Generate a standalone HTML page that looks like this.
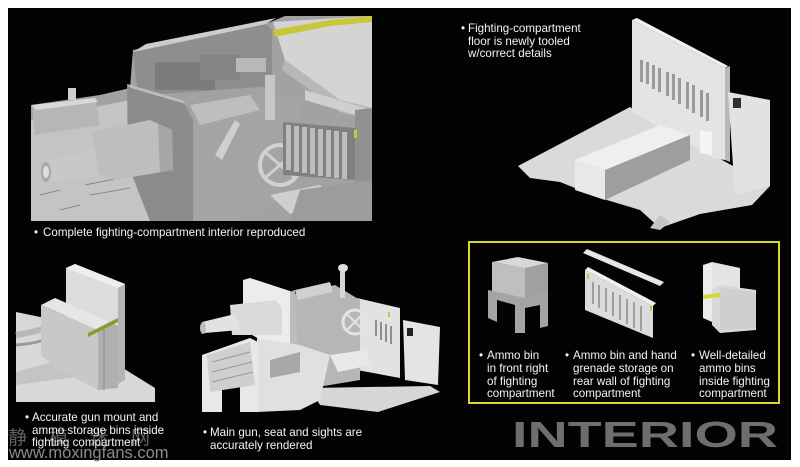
<!DOCTYPE html>
<html><head><meta charset="utf-8">
<style>
html,body{margin:0;padding:0;background:#fff;}
svg{display:block;}
text{font-family:"Liberation Sans","Noto Sans CJK SC",sans-serif;}
.c{fill:#f4f4f4;font-size:11.6px;}
</style></head>
<body>
<svg width="800" height="467" viewBox="0 0 800 467" xmlns="http://www.w3.org/2000/svg">
<rect x="0" y="0" width="800" height="467" fill="#fff"/>
<rect x="8" y="8" width="783" height="452" fill="#030303"/>

<!-- ===== Panel 1: top-left render ===== -->
<g>
<polygon points="31,105 100,95 130,88 133,50 268,23 285,16 372,16 372,221 31,221" fill="#a2a2a2"/>
<polygon points="31,120 130,100 190,200 190,221 31,221" fill="#c4c4c4"/>
<polygon points="32,105 95,98 100,125 35,135" fill="#b6b6b6"/>
<polygon points="32,105 95,98 98,102 36,110" fill="#d8d8d8"/>
<rect x="68" y="88" width="8" height="12" fill="#cfcfcf"/>
<g stroke="#8a8a8a" stroke-width="1">
<line x1="40" y1="195" x2="60" y2="190"/><line x1="60" y1="210" x2="80" y2="205"/>
<line x1="85" y1="185" x2="120" y2="178"/><line x1="90" y1="195" x2="130" y2="188"/>
</g>
<polygon points="133,52 266,24 272,30 272,86 138,96" fill="#8e8e8e"/>
<polygon points="133,52 266,24 276,18 146,44" fill="#cccccc"/>
<rect x="155" y="62" width="60" height="28" fill="#7c7c7c"/>
<rect x="200" y="55" width="40" height="25" fill="#848484"/>
<rect x="236" y="58" width="30" height="14" fill="#b8b8b8"/>
<polygon points="273,22 372,16 372,108 340,100 285,60" fill="#d4d4d4"/>
<polygon points="273,30 330,20 372,16 372,22 330,26 275,37" fill="#c8c63a"/>
<polygon points="285,60 340,100 372,108 372,120 340,112 282,70" fill="#b8b8b8"/>
<polygon points="127,84 182,100 193,120 193,221 150,221 128,165" fill="#8c8c8c"/>
<polygon points="127,84 182,100 186,104 131,88" fill="#bdbdbd"/>
<polygon points="93,132 150,120 172,130 173,170 115,180 93,172" fill="#bebebe"/>
<polygon points="150,120 172,130 173,170 160,172 158,124" fill="#a6a6a6"/>
<polygon points="45,162 95,148 98,176 48,182" fill="#c8c8c8"/>
<ellipse cx="46" cy="172" rx="5" ry="10" fill="#a8a8a8"/>
<ellipse cx="46" cy="172" rx="3" ry="6" fill="#dedede"/>
<polygon points="193,110 270,90 300,100 300,190 240,221 193,221" fill="#a4a4a4"/>
<polygon points="190,105 250,95 260,110 200,125" fill="#bebebe"/>
<rect x="265" y="75" width="10" height="45" fill="#c6c6c6"/>
<circle cx="280" cy="165" r="20" fill="none" stroke="#d2d2d2" stroke-width="4"/>
<line x1="265" y1="152" x2="295" y2="178" stroke="#d0d0d0" stroke-width="3"/>
<line x1="295" y1="152" x2="265" y2="178" stroke="#d0d0d0" stroke-width="3"/>
<polygon points="270,195 320,185 335,200 290,214" fill="#cfcfcf"/>
<polygon points="215,155 235,120 240,124 222,160" fill="#cfcfcf"/>
<polygon points="283,122 355,128 355,180 283,175" fill="#808080"/>
<g fill="#bdbdbd">
<rect x="286" y="125" width="5" height="45"/><rect x="294" y="126" width="5" height="46"/>
<rect x="302" y="127" width="5" height="46"/><rect x="310" y="128" width="5" height="46"/>
<rect x="318" y="129" width="5" height="47"/><rect x="326" y="130" width="5" height="47"/>
<rect x="334" y="131" width="5" height="47"/><rect x="342" y="132" width="5" height="47"/>
</g>
<polygon points="305,90 365,108 365,118 305,100" fill="#cfcfcf"/>
<polygon points="355,110 372,108 372,221 355,221" fill="#919191"/>
<rect x="354" y="130" width="3" height="8" fill="#c8c63a"/>
<polygon points="300,190 372,180 372,221 290,221" fill="#9c9c9c"/>
</g>
<text class="c" x="34" y="236">•</text>
<text class="c" x="43" y="236">Complete fighting-compartment interior reproduced</text>

<!-- ===== Panel 2: top-right floor ===== -->
<text class="c" x="461" y="32">•</text>
<text class="c" x="468" y="32">Fighting-compartment</text>
<text class="c" x="468" y="45">floor is newly tooled</text>
<text class="c" x="468" y="57">w/correct details</text>
<g>
<polygon points="518,166 630,107 700,148 770,186 752,205 700,214 660,228 640,210 600,198 560,182 530,178" fill="#dadada"/>
<polygon points="632,20 725,68 725,160 713,158 700,150 632,112" fill="#e4e4e4"/>
<polygon points="632,20 637,18 728,66 725,68" fill="#f0f0f0"/>
<polygon points="725,68 730,66 730,162 725,160" fill="#b8b8b8"/>
<g fill="#9a9a9a">
<rect x="640" y="60" width="3" height="22"/><rect x="646" y="62" width="3" height="22"/>
<rect x="652" y="65" width="3" height="24"/><rect x="658" y="68" width="3" height="24"/>
<rect x="666" y="72" width="3" height="24"/><rect x="672" y="74" width="3" height="26"/>
<rect x="678" y="78" width="3" height="26"/><rect x="686" y="82" width="3" height="27"/>
<rect x="692" y="85" width="3" height="28"/><rect x="700" y="90" width="3" height="27"/>
<rect x="706" y="93" width="3" height="28"/>
</g>
<polygon points="728,92 770,100 770,186 735,195" fill="#e2e2e2"/>
<rect x="733" y="98" width="8" height="10" fill="#303030"/>
<polygon points="575,160 660,125 690,135 605,170" fill="#efefef"/>
<polygon points="575,160 605,170 605,200 575,190" fill="#e8e8e8"/>
<polygon points="605,170 690,135 690,160 605,200" fill="#9e9e9e"/>
<polygon points="700,130 712,132 712,155 700,153" fill="#f4f4f4"/>
<polygon points="650,228 660,215 670,222 660,230" fill="#c4c4c4"/>
</g>

<!-- ===== Yellow box ===== -->
<rect x="469" y="242" width="310" height="161" fill="none" stroke="#d8d82a" stroke-width="2"/>
<polygon points="492,268 525,262 548,268 548,300 520,300 492,295" fill="#a8a8a8"/>
<polygon points="492,262 518,257 548,263 525,268" fill="#d8d8d8"/>
<polygon points="492,262 525,268 525,298 492,292" fill="#bfbfbf"/>
<polygon points="525,268 548,263 548,292 525,298" fill="#a0a0a0"/>
<polygon points="488,290 525,298 548,292 548,326 540,328 540,305 525,308 525,333 515,333 515,305 497,300 497,322 488,318" fill="#a4a4a4"/>
<polygon points="583,253 587,249 664,282 660,286" fill="#e6e6e6"/>
<polygon points="585,270 653,306 653,338 585,310" fill="#dcdcdc"/>
<polygon points="585,270 588,267 656,303 653,306" fill="#f0f0f0"/>
<g fill="#9e9e9e">
<rect x="592" y="282" width="2" height="22"/><rect x="598" y="285" width="2" height="23"/>
<rect x="605" y="288" width="2" height="24"/><rect x="612" y="292" width="2" height="24"/>
<rect x="619" y="295" width="2" height="25"/><rect x="626" y="299" width="2" height="25"/>
<rect x="633" y="302" width="2" height="26"/><rect x="640" y="306" width="2" height="25"/>
</g>
<rect x="587" y="274" width="2" height="5" fill="#c8c63a"/>
<rect x="650" y="306" width="2" height="5" fill="#c8c63a"/>
<polygon points="703,265 712,262 712,322 703,318" fill="#ececec"/>
<polygon points="712,262 740,268 740,290 712,290" fill="#e4e4e4"/>
<polygon points="712,290 720,285 756,290 756,330 720,333 712,325" fill="#d8d8d8"/>
<polygon points="720,288 756,292 756,328 720,330" fill="#cfcfcf"/>
<polygon points="703,295 720,293 720,297 703,299" fill="#d6d63a"/>
<text class="c" x="479" y="359">•</text>
<text class="c" x="487" y="359">Ammo bin</text>
<text class="c" x="487" y="372">in front right</text>
<text class="c" x="487" y="385">of fighting</text>
<text class="c" x="487" y="397">compartment</text>
<text class="c" x="565" y="359">•</text>
<text class="c" x="573" y="359">Ammo bin and hand</text>
<text class="c" x="573" y="372">grenade storage on</text>
<text class="c" x="573" y="385">rear wall of fighting</text>
<text class="c" x="573" y="397">compartment</text>
<text class="c" x="691" y="359">•</text>
<text class="c" x="699" y="359">Well-detailed</text>
<text class="c" x="699" y="372">ammo bins</text>
<text class="c" x="699" y="385">inside fighting</text>
<text class="c" x="699" y="397">compartment</text>

<!-- ===== Bottom-left render ===== -->
<g>
<polygon points="16,312 45,318 62,330 85,345 110,360 155,388 155,402 16,402" fill="#d8d8d8"/>
<path d="M16,335 Q50,330 62,318" fill="none" stroke="#b8b8b8" stroke-width="6"/>
<path d="M16,345 Q55,342 68,325" fill="none" stroke="#9a9a9a" stroke-width="3"/>
<polygon points="16,372 60,360 90,375 16,385" fill="#c4c4c4"/>
<polygon points="66,268 75,264 125,284 125,360 66,330" fill="#dcdcdc"/>
<polygon points="66,268 75,264 125,284 118,288" fill="#eeeeee"/>
<polygon points="118,288 125,284 125,380 118,384" fill="#b4b4b4"/>
<polygon points="41,305 55,298 110,322 98,330" fill="#e6e6e6"/>
<polygon points="41,305 98,330 98,390 60,370 41,355" fill="#c8c8c8"/>
<polygon points="98,330 110,322 118,326 118,388 98,390" fill="#b0b0b0"/>
<line x1="104" y1="328" x2="104" y2="390" stroke="#8c8c8c" stroke-width="1"/>
<polygon points="88,333 118,318 118,322 88,337" fill="#8e9a2a"/>
</g>
<text x="8" y="444" font-size="19" fill="#5e5e5e" letter-spacing="22">静模迷网</text>
<text class="c" x="25" y="421">•</text>
<text class="c" x="32" y="421">Accurate gun mount and</text>
<text class="c" x="32" y="434">ammo storage bins inside</text>
<text class="c" x="32" y="446">fighting compartment</text>
<text x="9" y="458" font-size="16.5" fill="#8c8c8c">www.moxingfans.com</text>

<!-- ===== Bottom-middle render ===== -->
<g>
<polygon points="403,320 440,327 438,385 405,380" fill="#e4e4e4"/>
<rect x="407" y="328" width="6" height="8" fill="#222"/>
<polygon points="357,298 400,308 400,378 357,370" fill="#e2e2e2"/>
<g fill="#8e8e8e"><rect x="380" y="322" width="2" height="18"/><rect x="385" y="324" width="2" height="18"/><rect x="390" y="326" width="2" height="18"/><rect x="375" y="320" width="2" height="16"/></g>
<rect x="388" y="312" width="2" height="5" fill="#c8c63a"/>
<polygon points="310,388 430,386 440,392 378,412 320,405" fill="#d6d6d6"/>
<polygon points="290,295 335,285 360,300 360,380 300,390 290,340" fill="#b6b6b6"/>
<polygon points="295,290 330,282 333,292 298,300" fill="#d0d0d0"/>
<circle cx="355" cy="322" r="12" fill="none" stroke="#e4e4e4" stroke-width="3"/>
<line x1="346" y1="313" x2="364" y2="331" stroke="#e4e4e4" stroke-width="2"/>
<line x1="364" y1="313" x2="346" y2="331" stroke="#e4e4e4" stroke-width="2"/>
<rect x="340" y="268" width="5" height="30" fill="#d6d6d6"/>
<ellipse cx="343" cy="268" rx="5" ry="4" fill="#e0e0e0"/>
<polygon points="330,355 365,350 372,365 338,372" fill="#e8e8e8"/>
<polygon points="243,280 250,278 293,292 290,350 270,345 243,330" fill="#ececec"/>
<polygon points="290,292 295,290 298,360 290,370" fill="#bcbcbc"/>
<polygon points="230,305 275,300 282,308 282,335 232,335" fill="#dadada"/>
<polygon points="202,322 235,314 240,330 205,333" fill="#e2e2e2"/>
<ellipse cx="203" cy="328" rx="3" ry="6" fill="#bdbdbd"/>
<polygon points="257,338 300,345 330,355 320,400 300,410 257,412" fill="#e0e0e0"/>
<polygon points="270,360 300,352 300,372 270,378" fill="#a8a8a8"/>
<polygon points="202,355 250,338 258,342 258,412 240,412 240,380 222,385 222,412 202,412" fill="#e8e8e8"/>
<polygon points="207,355 250,342 255,385 210,392" fill="#cfcfcf"/>
<g stroke="#9a9a9a" stroke-width="1"><line x1="212" y1="362" x2="250" y2="352"/><line x1="212" y1="372" x2="252" y2="362"/><line x1="212" y1="382" x2="253" y2="372"/></g>
</g>
<text class="c" x="203" y="436">•</text>
<text class="c" x="210" y="436">Main gun, seat and sights are</text>
<text class="c" x="210" y="449">accurately rendered</text>

<text x="512" y="447" font-size="36" font-weight="bold" fill="#6e6e6e" textLength="266" lengthAdjust="spacingAndGlyphs">INTERIOR</text>
</svg>
</body></html>
